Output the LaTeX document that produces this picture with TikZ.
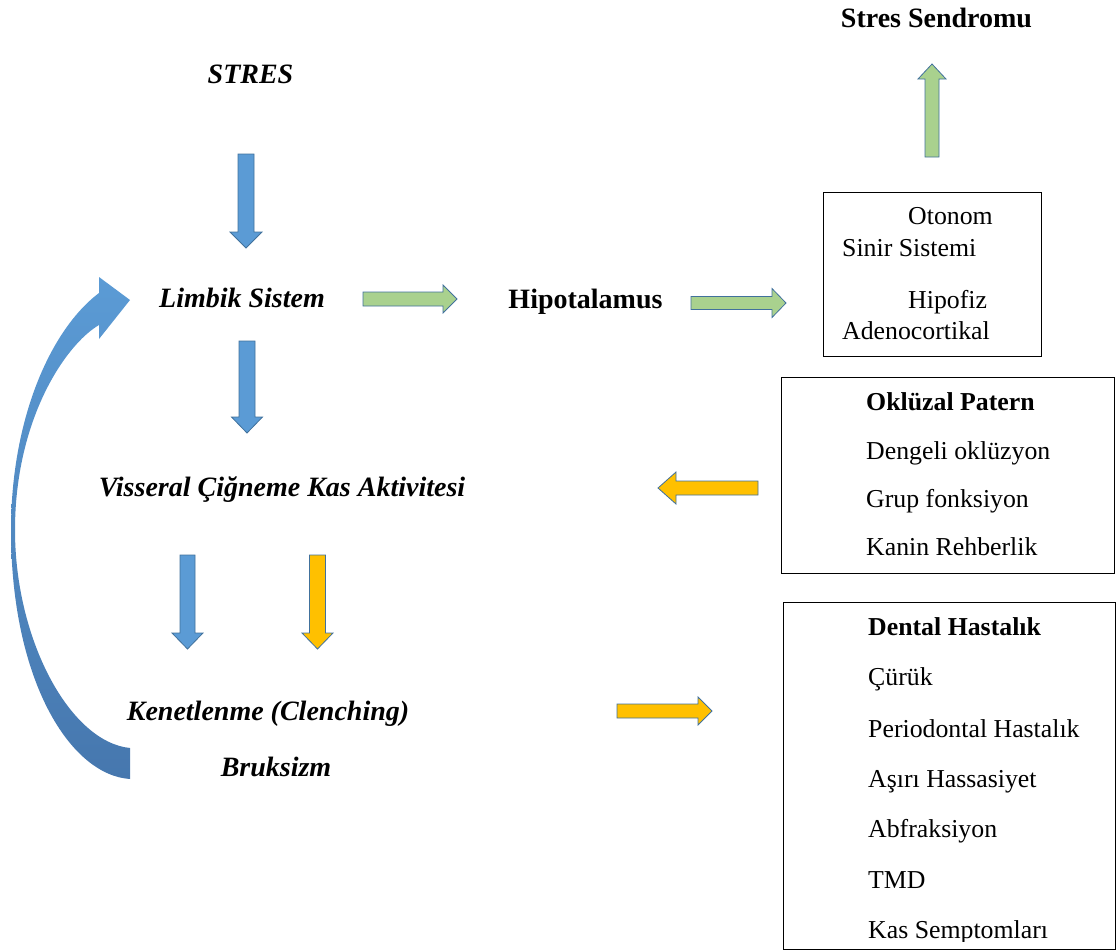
\documentclass[tikz,border=0pt]{standalone}
\usepackage{fontspec}
\setmainfont{Liberation Serif}
\definecolor{blueA}{HTML}{5B9BD5}
\definecolor{blueD}{HTML}{41719C}
\definecolor{blueT}{HTML}{4677AE}
\definecolor{greenA}{HTML}{A9D18E}
\definecolor{yellowA}{HTML}{FFC000}
% style, x, y, angle, length, shaft half width, head half width, head length
\newcommand\blockarr[8]{\draw[#1,shift={(#2,#3)},rotate=#4] (0,-#6) -- ({#5-#8},-#6) -- ({#5-#8},-#7) -- (#5,0) -- ({#5-#8},#7) -- ({#5-#8},#6) -- (0,#6) -- cycle;}
\begin{document}
\begin{tikzpicture}[x=1pt,y=-1pt,
  lbl/.style={font=\fontsize{28}{33}\selectfont\bfseries\itshape, inner sep=0, anchor=base},
  lblb/.style={font=\fontsize{28}{33}\selectfont\bfseries, inner sep=0, anchor=base},
  btxt/.style={font=\fontsize{25.8}{30}\selectfont, inner sep=0, anchor=base west},
  bhead/.style={font=\fontsize{25.8}{30}\selectfont\bfseries, inner sep=0, anchor=base west},
  boxst/.style={draw=black, line width=1.2pt, inner sep=0, anchor=north west},
  barB/.style={fill=blueA, draw=blueD, line width=0.8pt},
  barG/.style={fill=greenA, draw=blueD, line width=0.8pt},
  barY/.style={fill=yellowA, draw=blueD, line width=0.8pt}]
\useasboundingbox (0,0) rectangle (1119,951);

% main labels
\node[lbl] (stres) at (250.5,83) {STRES};
\node[lblb] (sendrom) at (936.5,27) {Stres Sendromu};
\node[lbl] (limbik) at (242,307) {Limbik Sistem};
\node[lblb] (hipo) at (585.5,308) {Hipotalamus};
\node[lbl] (visseral) at (282,496) {Visseral Çiğneme Kas Aktivitesi};
\node[lbl] (kenet) at (268,720) {Kenetlenme (Clenching)};
\node[lbl] (bruks) at (276,776) {Bruksizm};

% box 1
\node[boxst, minimum width=218, minimum height=164] (box1) at (823,192) {};
\node[btxt] (oto) at (908,224) {Otonom};
\node[btxt] (sinir) at (842,256) {Sinir Sistemi};
\node[btxt] (hipof) at (908,308) {Hipofiz};
\node[btxt] (adeno) at (842,339) {Adenocortikal};

% box 2
\node[boxst, minimum width=333, minimum height=196] (box2) at (781,377) {};
\node[bhead] (okl) at (866,410) {Oklüzal Patern};
\node[btxt] (deng) at (866,459) {Dengeli oklüzyon};
\node[btxt] (grup) at (866,507) {Grup fonksiyon};
\node[btxt] (kanin) at (866,555) {Kanin Rehberlik};

% box 3
\node[boxst, minimum width=332, minimum height=347] (box3) at (783,602) {};
\begin{scope}
\clip (783,602) rectangle (1115,941);
\node[bhead] (dent) at (868,635) {Dental Hastalık};
\node[btxt] (curuk) at (868,685) {Çürük};
\node[btxt] (perio) at (868,737) {Periodontal Hastalık};
\node[btxt] (asiri) at (868,787) {Aşırı Hassasiyet};
\node[btxt] (abfr) at (868,837) {Abfraksiyon};
\node[btxt] (tmd) at (868,888) {TMD};
\node[btxt] (kas) at (868,938) {Kas Semptomları};
\end{scope}

% block arrows
\blockarr{barB}{246}{154}{-90}{94}{8}{16}{16}
\blockarr{barB}{247}{341}{-90}{92}{8}{15.5}{16}
\blockarr{barB}{187.5}{555}{-90}{94}{7.5}{15.5}{16}
\blockarr{barY}{317.5}{555}{-90}{94}{8}{15.5}{16}
\blockarr{barG}{363}{299}{0}{94}{7}{14}{14}
\blockarr{barG}{691}{303}{0}{95}{6.5}{14.5}{14}
\blockarr{barG}{932}{157}{90}{93}{7}{14}{15}
\blockarr{barY}{758}{488}{180}{100}{7}{16}{18}
\blockarr{barY}{617}{711}{0}{95}{7}{14}{14}

% curved feedback arrow
\path[top color=blueA, bottom color=blueT]
  (130,779) .. controls (70,775) and (11,680) .. (11,530)
  .. controls (11,420) and (50,330) .. (99,293)
  -- (99,277) -- (130,300) -- (99,339) -- (99,325)
  .. controls (65,345) and (15,420) .. (15,530)
  .. controls (15,640) and (70,742) .. (130,748) -- cycle;
\end{tikzpicture}
\end{document}
